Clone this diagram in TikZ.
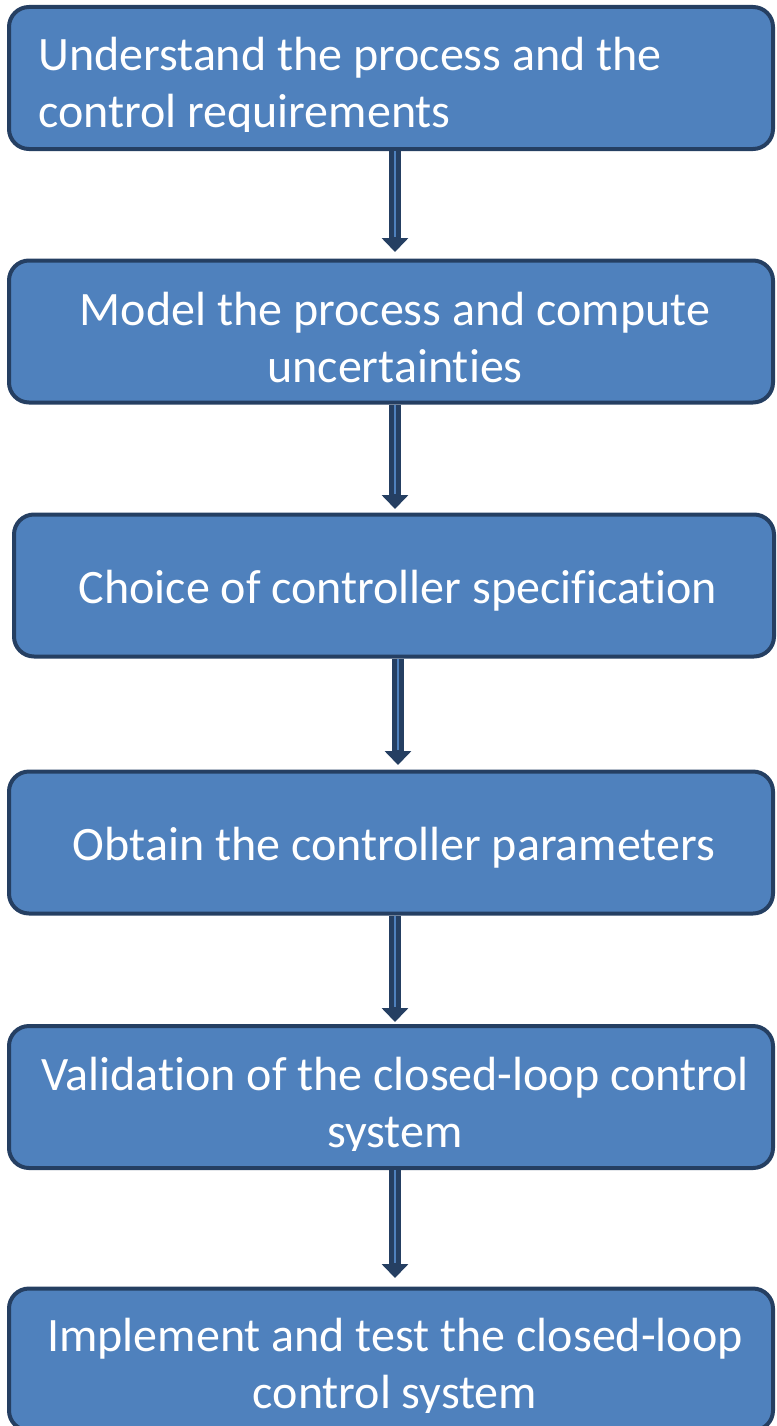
\documentclass[tikz,border=0pt]{standalone}
\usepackage{fontspec}
\setmainfont[Ligatures=NoCommon]{Carlito}
\usetikzlibrary{arrows.meta}
\definecolor{boxfill}{HTML}{4F81BD}
\definecolor{boxline}{HTML}{253F62}
\begin{document}
\begin{tikzpicture}[x=1pt,y=1pt,
  stepbox/.style={draw=boxline, line width=4pt, fill=boxfill, rounded corners=20pt, rectangle, inner sep=0pt, minimum width=764pt, minimum height=142pt},
  txt/.style={text=white, font=\fontsize{48}{57}\selectfont, inner sep=0pt},
  shaft/.style={draw=boxline, line width=12pt, -{Triangle[width=26pt,length=14pt]}},
  core/.style={draw=boxfill, line width=2pt}]
\useasboundingbox (0,0) rectangle (776,-1426);
% boxes
\node[stepbox] (b1) at (391,-78) {};
\node[stepbox] (b2) at (391,-331.5) {};
\node[stepbox, minimum width=760pt] (b3) at (394,-585.5) {};
\node[stepbox] (b4) at (391,-842.5) {};
\node[stepbox] (b5) at (391,-1097) {};
\node[stepbox] (b6) at (391,-1359.5) {};
% texts (base anchor = baseline of the last line)
\begin{scope}
\clip (0,-5) rectangle (776,-132);
\node[txt, anchor=base west, align=left] (t1) at (38,-128) {Understand the process and the\\control requirements};
\end{scope}
\node[txt, anchor=base, align=center] (t2) at (395,-382) {Model the process and compute\\uncertainties};
\node[txt, anchor=base] (t3) at (398,-603) {Choice of controller specification};
\node[txt, anchor=base] (t4) at (394,-860) {Obtain the controller parameters};
\begin{scope}
\clip (0,-1020) rectangle (776,-1150);
\node[txt, anchor=base, align=center] (t5) at (395,-1147) {Validation of the closed-loop control\\system};
\end{scope}
\begin{scope}
\clip (0,-1280) rectangle (776,-1412);
\node[txt, anchor=base, align=center] (t6) at (395,-1408) {Implement and test the closed-loop\\control system};
\end{scope}
% arrow tips
\coordinate (e1) at (395,-252);
\coordinate (e2) at (395,-509);
\coordinate (e3) at (398,-765);
\coordinate (e4) at (395,-1022);
\coordinate (e5) at (395,-1278);
\foreach \a/\e in {b1/e1,b2/e2,b3/e3,b4/e4,b5/e5}{
  \draw[shaft] (\a.south -| \e) -- (\e);
  \draw[core] (\a.south -| \e) -- ([yshift=15pt]\e);
}
\end{tikzpicture}
\end{document}
